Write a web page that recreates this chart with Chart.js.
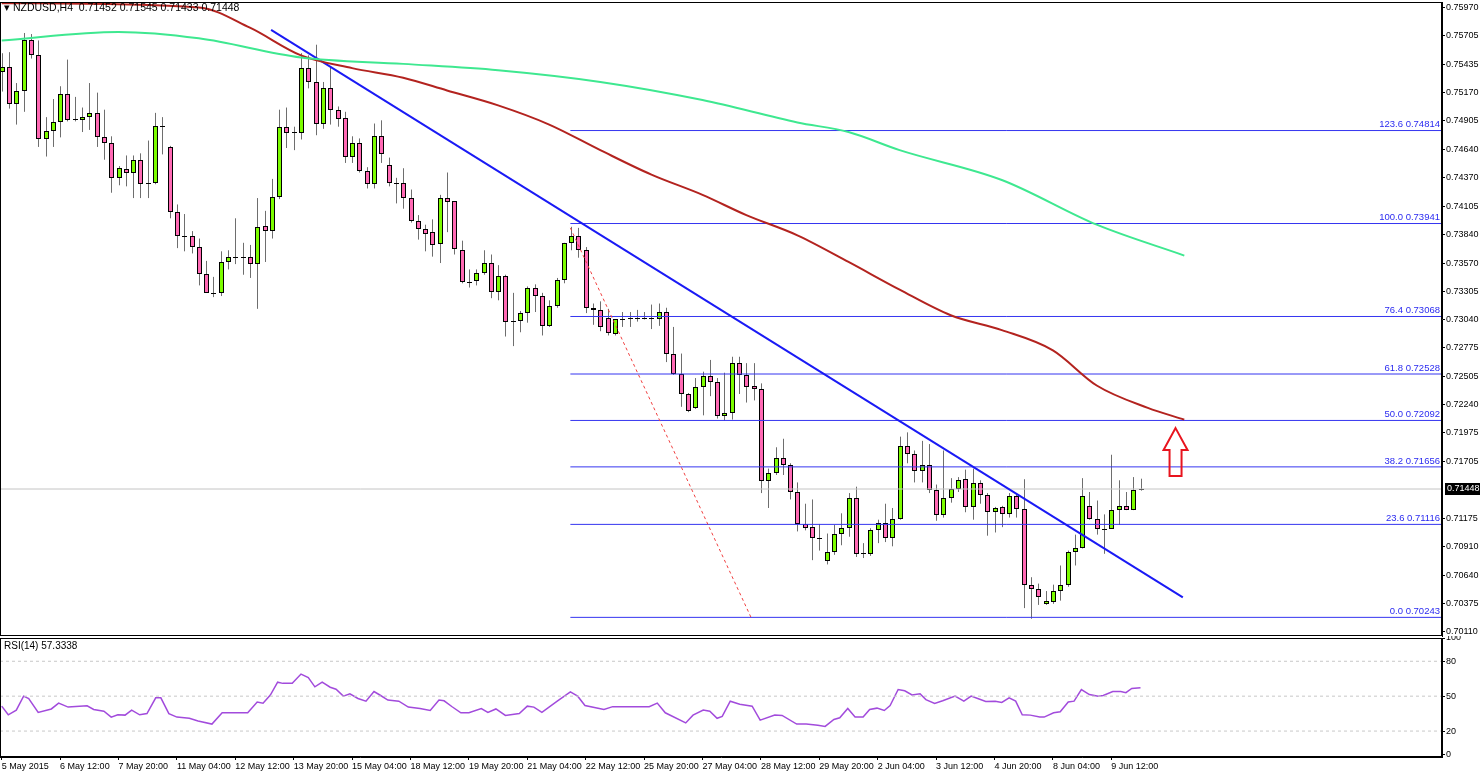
<!DOCTYPE html>
<html><head><meta charset="utf-8">
<script src="https://cdn.jsdelivr.net/npm/chart.js@4.4.1/dist/chart.umd.min.js"></script>
<style>
html,body{margin:0;padding:0;background:#fff;width:1480px;height:772px;overflow:hidden;font-family:"Liberation Sans",Arial,sans-serif}
#main{position:absolute;left:0;top:0}
#rsi{position:absolute;left:0;top:636px}
#hdr{position:absolute;left:4px;top:1px;font-size:10.5px;color:#000;white-space:pre}
#rsiHdr{position:absolute;left:4px;top:640px;font-size:10px;color:#000}
</style></head><body>
<canvas id="main" width="1480" height="638"></canvas>
<canvas id="rsi" width="1480" height="136"></canvas>
<div id="hdr">▾ NZDUSD,H4  0.71452 0.71545 0.71433 0.71448</div>
<div id="rsiHdr">RSI(14) 57.3338</div>
<script>
// ---------- DATA ----------
const openP=[.7536,.7541,.7506,.7519,.7566,.7552,.7473,.7481,.7489,.7516,
.7491,.7491,.7494,.7498,.7475,.7470,.7437,.7445,.7442,.7454,
.7432,.7432,.7486,.7466,.7405,.7382,.7382,.7372,.7347,.7329,
.7329,.7358,.7363,.7363,.7363,.7356,.7392,.7387,.7419,.7485,
.7479,.7479,.7540,.7527,.7488,.7521,.7501,.7493,.7457,.7470,
.7443,.7431,.7476,.7449,.7432,.7432,.7418,.7396,.7389,.7386,
.7375,.7418,.7415,.7369,.7339,.7340,.7348,.7357,.7330,.7345,
.7302,.7303,.7310,.7334,.7326,.7298,.7317,.7341,.7376,.7382,
.7369,.7315,.7313,.7305,.7290,.7304,.7304,.7305,.7305,.7305,
.7304,.7311,.7272,.7253,.7234,.7221,.7241,.7251,.7245,.7213,
.7216,.7263,.7252,.7242,.7239,.7152,.7160,.7174,.7167,.7142,
.7112,.7109,.7099,.7077,.7086,.7103,.7108,.7136,.7085,.7084,
.7106,.7113,.7099,.7117,.7185,.7178,.7162,.7167,.7144,.7120,
.7136,.7145,.7154,.7128,.7150,.7139,.7123,.7128,.7121,.7138,
.7126,.7055,.7051,.7037,.7039,.7049,.7055,.7086,.7089,.7129,
.7117,.7107,.7107,.7125,.7129,.7125,.71452];
const highP=[.7554,.7555,.7526,.7573,.7572,.7566,.7494,.7511,.7523,.7548,
.7513,.7503,.7526,.7517,.7501,.7476,.7448,.7458,.7458,.7460,
.7472,.7498,.7494,.7467,.7412,.7403,.7387,.7380,.7359,.7344,
.7368,.7369,.7399,.7376,.7374,.7418,.7406,.7436,.7501,.7503,
.7485,.7554,.7552,.7562,.7527,.7541,.7504,.7499,.7476,.7474,
.7447,.7488,.7491,.7456,.7437,.7446,.7426,.7402,.7393,.7398,
.7421,.7442,.7415,.7378,.7351,.7351,.7369,.7365,.7355,.7346,
.7329,.7312,.7335,.7337,.7329,.7322,.7343,.7376,.7391,.7390,
.7372,.7319,.7321,.7314,.7304,.7311,.7311,.7313,.7311,.7318,
.7319,.7315,.7297,.7272,.7235,.7249,.7255,.7266,.7249,.7254,
.7269,.7269,.7263,.7263,.7244,.7164,.7184,.7192,.7169,.7151,
.7131,.7135,.7112,.7103,.7111,.7122,.7141,.7147,.7094,.7108,
.7116,.7131,.7127,.7194,.7198,.7181,.7190,.7187,.7149,.7181,
.7155,.7156,.7163,.7164,.7153,.7141,.7128,.7129,.7141,.7141,
.7154,.7062,.7056,.7049,.7055,.7073,.7087,.7102,.7155,.7142,
.7134,.7121,.7177,.7153,.7142,.7156,.71545];
const lowP=[.7518,.7502,.7487,.7499,.7549,.7466,.7457,.7466,.7475,.7490,
.7490,.7480,.7482,.7466,.7454,.7423,.7430,.7429,.7418,.7418,
.7418,.7431,.7459,.7399,.7371,.7368,.7366,.7336,.7329,.7325,
.7326,.7351,.7356,.7346,.7343,.7314,.7358,.7380,.7417,.7465,
.7463,.7473,.7521,.7477,.7483,.7487,.7485,.7451,.7451,.7442,
.7427,.7427,.7451,.7429,.7413,.7408,.7395,.7379,.7368,.7363,
.7357,.7386,.7365,.7338,.7334,.7336,.7346,.7324,.7322,.7288,
.7279,.7292,.7301,.7311,.7289,.7297,.7315,.7338,.7369,.7362,
.7310,.7299,.7293,.7289,.7289,.7297,.7297,.7302,.7304,.7295,
.7298,.7264,.7252,.7222,.7217,.7220,.7214,.7232,.7211,.7209,
.7210,.7234,.7226,.7228,.7141,.7127,.7158,.7158,.7135,.7105,
.7106,.7078,.7087,.7074,.7083,.7092,.7100,.7081,.7080,.7082,
.7094,.7095,.7091,.7116,.7169,.7151,.7151,.7141,.7115,.7118,
.7132,.7142,.7123,.7116,.7131,.7101,.7104,.7109,.7118,.7118,
.7033,.7023,.7036,.7036,.7037,.7040,.7053,.7073,.7089,.7116,
.7102,.7084,.7108,.7111,.7125,.7125,.71433];
const closeP=[.7541,.7506,.7519,.7566,.7552,.7473,.7481,.7489,.7516,.7491,
.7492,.7494,.7498,.7475,.7470,.7437,.7446,.7442,.7454,.7431,
.7431,.7486,.7485,.7405,.7382,.7381,.7372,.7347,.7329,.7329,
.7358,.7363,.7363,.7363,.7356,.7391,.7387,.7419,.7485,.7479,
.7480,.7540,.7527,.7488,.7521,.7501,.7492,.7457,.7470,.7443,
.7431,.7476,.7459,.7432,.7432,.7418,.7396,.7389,.7384,.7374,
.7418,.7414,.7370,.7339,.7339,.7348,.7357,.7330,.7345,.7302,
.7303,.7310,.7334,.7326,.7298,.7317,.7341,.7376,.7382,.7369,
.7315,.7313,.7297,.7291,.7304,.7304,.7305,.7305,.7305,.7304,
.7311,.7272,.7253,.7234,.7218,.7241,.7251,.7245,.7213,.7216,
.7263,.7252,.7241,.7239,.7152,.7160,.7174,.7167,.7142,.7112,
.7108,.7099,.7099,.7086,.7103,.7108,.7136,.7084,.7085,.7106,
.7113,.7099,.7117,.7185,.7178,.7162,.7167,.7144,.7120,.7136,
.7145,.7153,.7128,.7150,.7139,.7123,.7127,.7121,.7138,.7126,
.7055,.7051,.7043,.7040,.7049,.7055,.7086,.7089,.7138,.7117,
.7107,.7107,.7125,.7129,.7125,.7144,.71448];

const maSlowIdx=[0,16,27,41,55,68,82,96,109,116,123,137,150,162];
const maSlowVal=[.7566,.7574,.7568,.7550,.7544,.7538,.7527,.7510,.7489,.7480,.7463,.7435,.7393,.7364];
const maMidIdx=[0,27,34,41,48,55,61,68,75,82,89,96,102,109,116,123,130,137,144,150,157,162];
const maMidVal=[.7601,.7597,.7578,.7552,.7540,.7531,.7519,.7505,.7487,.7463,.7440,.7421,.7402,.7383,.7358,.7332,.7308,.7294,.7275,.7242,.7221,.7210];

const trendIdx=[36.9,161.8], trendVal=[.7576,.7043];
const dropIdx=[77.9,102.8], dropVal=[.7390,.7022];

const fibStartIdx=77.9;
const fibPct=["123.6","100.0","76.4","61.8","50.0","38.2","23.6","0.0"];
const fibVal=[0.74814,0.73941,0.73068,0.72528,0.72092,0.71656,0.71116,0.70243];
const lastPrice=0.71448;
const arrowIdx=160.8, arrowTop=0.7202, arrowBottom=0.7157;

const priceTicks=[0.75970,0.75705,0.75435,0.75170,0.74905,0.74640,0.74370,0.74105,0.73840,0.73570,0.73305,0.73040,0.72775,0.72505,0.72240,0.71975,0.71705,0.71175,0.70910,0.70640,0.70375,0.70110];
const xTickIdx=[0,8,16,24,32,40,48,56,64,72,80,88,96,104,112,120,128,136,144,152];
const xTickLabels=["5 May 2015","6 May 12:00","7 May 20:00","11 May 04:00","12 May 12:00","13 May 20:00","15 May 04:00","18 May 12:00","19 May 20:00","21 May 04:00","22 May 12:00","25 May 20:00","27 May 04:00","28 May 12:00","29 May 20:00","2 Jun 04:00","3 Jun 12:00","4 Jun 20:00","8 Jun 04:00","9 Jun 12:00"];

const rsiIdx=[0,0.9,2.0,3.0,3.7,5.0,6.8,7.8,9.1,11.7,12.6,14.0,15.0,15.9,16.9,17.8,18.9,19.9,21.1,21.8,22.9,24.0,25.7,26.9,28.8,30.2,33.7,35.0,35.8,36.8,37.8,38.5,39.8,41.0,42.0,42.9,43.9,45.0,45.8,46.8,47.7,48.8,49.9,51.0,51.8,52.9,54.4,55.7,57.3,58.7,59.9,60.6,61.7,62.9,64.0,65.7,66.6,67.7,69.0,70.9,72.0,72.9,74.0,76.1,77.9,78.9,79.9,82.5,83.7,88.7,89.8,90.9,93.7,94.7,96.1,97.0,98.0,98.7,99.8,101.1,102.8,103.9,105.9,106.9,108.9,110.2,111.8,112.8,114.0,114.8,115.9,116.9,118.0,118.9,119.9,120.9,121.7,122.8,123.7,124.7,125.8,126.6,127.8,128.9,130.6,131.8,132.8,133.7,134.8,136.1,137.0,138.0,138.9,139.8,140.9,142.2,142.8,144.1,145.0,146.1,146.9,147.9,149.0,150.2,150.9,152.2,153.3,154.0,154.8,156];
const rsiVal=[41.4,34,38,50,48,36,39,44,40.6,41.7,38.6,37,32,34,33.7,38,34,35,48.6,48.6,35,32,31,28.6,26,35.7,35.7,45,44,51,62,61,61,69,66,58,62,57.7,56,50,52,48,45.7,54,51,46.6,45.7,40.6,39.4,37.7,46.6,46,40.9,35.7,35.7,39.4,36,39,33.4,35,41.4,40.6,36,45.7,53.7,50,42,38.6,41,41,44,35.7,27,33.7,38,37,31,32.6,45.7,43,41.4,29.4,33.7,33.4,26,26,25,24,30,31.4,39.4,32,32,38.6,39.7,37.7,42,55.7,54.6,51,52,47,43.7,46,50,45.7,50,48,45.4,45.7,44.6,48.6,45.7,34,33.7,32,32,35.7,36.6,45,45.7,55.7,51.4,50,50.6,54,54,53,56.6,57.3];
const rsiLevels=[20,50,80];
const rsiTicks=[0,20,50,80,100];

// ---------- HELPERS ----------
const X_MIN=-0.233, X_MAX=197.3;
const FONT="Liberation Sans";
const pts=(xs,ys)=>xs.map((v,i)=>({x:v,y:ys[i]}));
const fixW=w=>function(s){s.width=w;s.paddingTop=0;s.paddingBottom=0;};
const fixH=h=>function(s){s.height=h;s.paddingLeft=0;s.paddingRight=0;};

const framePlugin={id:'frame',afterDraw(c){const a=c.chartArea,ctx=c.ctx;ctx.save();ctx.strokeStyle='#000';ctx.lineWidth=1;ctx.strokeRect(a.left+0.5,a.top+0.5,a.right-a.left-1,a.bottom-a.top-1);ctx.restore();}};

const candlePlugin={id:'candles',beforeDatasetsDraw(c){
  const ctx=c.ctx,x=c.scales.x,y=c.scales.y,a=c.chartArea;
  ctx.save();ctx.beginPath();ctx.rect(a.left,a.top,a.right-a.left,a.bottom-a.top);ctx.clip();
  for(let i=0;i<openP.length;i++){
    const xp=Math.round(x.getPixelForValue(i));
    ctx.strokeStyle='#6e6e6e';ctx.lineWidth=1;
    ctx.beginPath();ctx.moveTo(xp+0.5,y.getPixelForValue(highP[i]));ctx.lineTo(xp+0.5,y.getPixelForValue(lowP[i]));ctx.stroke();
    const o=openP[i],cl=closeP[i];
    const t=Math.round(y.getPixelForValue(Math.max(o,cl))),b=Math.round(y.getPixelForValue(Math.min(o,cl)));
    if(b-t<2){ctx.strokeStyle='#000';ctx.beginPath();ctx.moveTo(xp-2,t+0.5);ctx.lineTo(xp+3,t+0.5);ctx.stroke();continue;}
    ctx.fillStyle=cl>o?'#7cfc00':'#ff69b4';
    ctx.fillRect(xp-2,t,5,b-t);
    ctx.strokeStyle='#000';ctx.strokeRect(xp-2+0.5,t+0.5,4,b-t-1);
  }
  ctx.restore();
},afterDatasetsDraw(c){
  const ctx=c.ctx,x=c.scales.x,y=c.scales.y,a=c.chartArea;
  ctx.save();
  ctx.font='9.5px '+FONT;ctx.fillStyle='#2b2bf0';ctx.textAlign='right';ctx.textBaseline='bottom';
  fibVal.forEach((v,i)=>{ctx.fillText(fibPct[i]+' '+v.toFixed(5),a.right-2,y.getPixelForValue(v)-1);});
  const xp=x.getPixelForValue(arrowIdx),ty=y.getPixelForValue(arrowTop),by=y.getPixelForValue(arrowBottom);
  ctx.strokeStyle='#e8141e';ctx.lineWidth=2;ctx.beginPath();
  ctx.moveTo(xp,ty);ctx.lineTo(xp+12,ty+22);ctx.lineTo(xp+6,ty+22);ctx.lineTo(xp+6,by);ctx.lineTo(xp-6,by);ctx.lineTo(xp-6,ty+22);ctx.lineTo(xp-12,ty+22);ctx.closePath();ctx.stroke();
  ctx.restore();
},afterDraw(c){
  const ctx=c.ctx,y=c.scales.y,a=c.chartArea;
  const py=Math.round(y.getPixelForValue(lastPrice));
  ctx.save();ctx.fillStyle='#000';ctx.fillRect(a.right+3,py-6,35,12);
  ctx.fillStyle='#fff';ctx.font='9px '+FONT;ctx.textBaseline='middle';ctx.textAlign='left';ctx.fillText(lastPrice.toFixed(5),a.right+5,py);
  ctx.restore();
}};

const lineDs=(data,color,w,extra)=>Object.assign({type:'line',data,borderColor:color,borderWidth:w,pointRadius:0,fill:false,tension:0},extra||{});

const mainDatasets=[
  lineDs(pts(maSlowIdx,maSlowVal),'#3ee890',2,{cubicInterpolationMode:'monotone'}),
  lineDs(pts(maMidIdx,maMidVal),'#b3231f',2,{cubicInterpolationMode:'monotone'}),
  lineDs(pts(trendIdx,trendVal),'#1a1af5',2),
  lineDs(pts(dropIdx,dropVal),'#f04040',1,{borderDash:[3,3]}),
  lineDs([{x:X_MIN,y:lastPrice},{x:X_MAX,y:lastPrice}],'#c4c4c4',1),
  ...fibVal.map(v=>lineDs([{x:fibStartIdx,y:v},{x:X_MAX,y:v}],'#3535f0',1))
];

new Chart(document.getElementById('main'),{
  type:'line',data:{datasets:mainDatasets},
  options:{responsive:false,animation:false,events:[],
    layout:{padding:{top:2,bottom:2,left:0,right:0}},
    plugins:{legend:{display:false},tooltip:{enabled:false}},
    scales:{
      x:{type:'linear',min:X_MIN,max:X_MAX,display:false},
      y:{type:'linear',position:'right',min:0.70068,max:0.76021,afterFit:fixW(38),
        afterBuildTicks:s=>{s.ticks=priceTicks.map(v=>({value:v}));},
        ticks:{callback:v=>Number(v).toFixed(5),font:{family:FONT,size:9},color:'#000',padding:1},
        grid:{drawOnChartArea:false,tickLength:3,color:'#000'},border:{color:'#000'}}
    }},
  plugins:[candlePlugin,framePlugin]
});

new Chart(document.getElementById('rsi'),{
  type:'line',data:{datasets:[
    ...rsiLevels.map(v=>lineDs([{x:X_MIN,y:v},{x:X_MAX,y:v}],'#c8c8c8',1,{borderDash:[3,3]})),
    lineDs(pts(rsiIdx,rsiVal),'#a24bdc',1.5)
  ]},
  options:{responsive:false,animation:false,events:[],
    layout:{padding:{top:2,bottom:0,left:0,right:0}},
    plugins:{legend:{display:false},tooltip:{enabled:false}},
    scales:{
      x:{type:'linear',min:X_MIN,max:X_MAX,afterFit:fixH(15),
        afterBuildTicks:s=>{s.ticks=xTickIdx.map(v=>({value:v}));},
        ticks:{callback:v=>xTickLabels[xTickIdx.indexOf(v)],align:'start',maxRotation:0,autoSkip:false,font:{family:FONT,size:9},color:'#000',padding:1},
        grid:{drawOnChartArea:false,tickLength:3,color:'#000'},border:{color:'#000'}},
      y:{type:'linear',position:'right',min:-2.3,max:100,afterFit:fixW(38),
        afterBuildTicks:s=>{s.ticks=rsiTicks.map(v=>({value:v}));},
        ticks:{font:{family:FONT,size:9},color:'#000',padding:1},
        grid:{drawOnChartArea:false,tickLength:3,color:'#000'},border:{color:'#000'}}
    }},
  plugins:[framePlugin]
});
</script></body></html>
